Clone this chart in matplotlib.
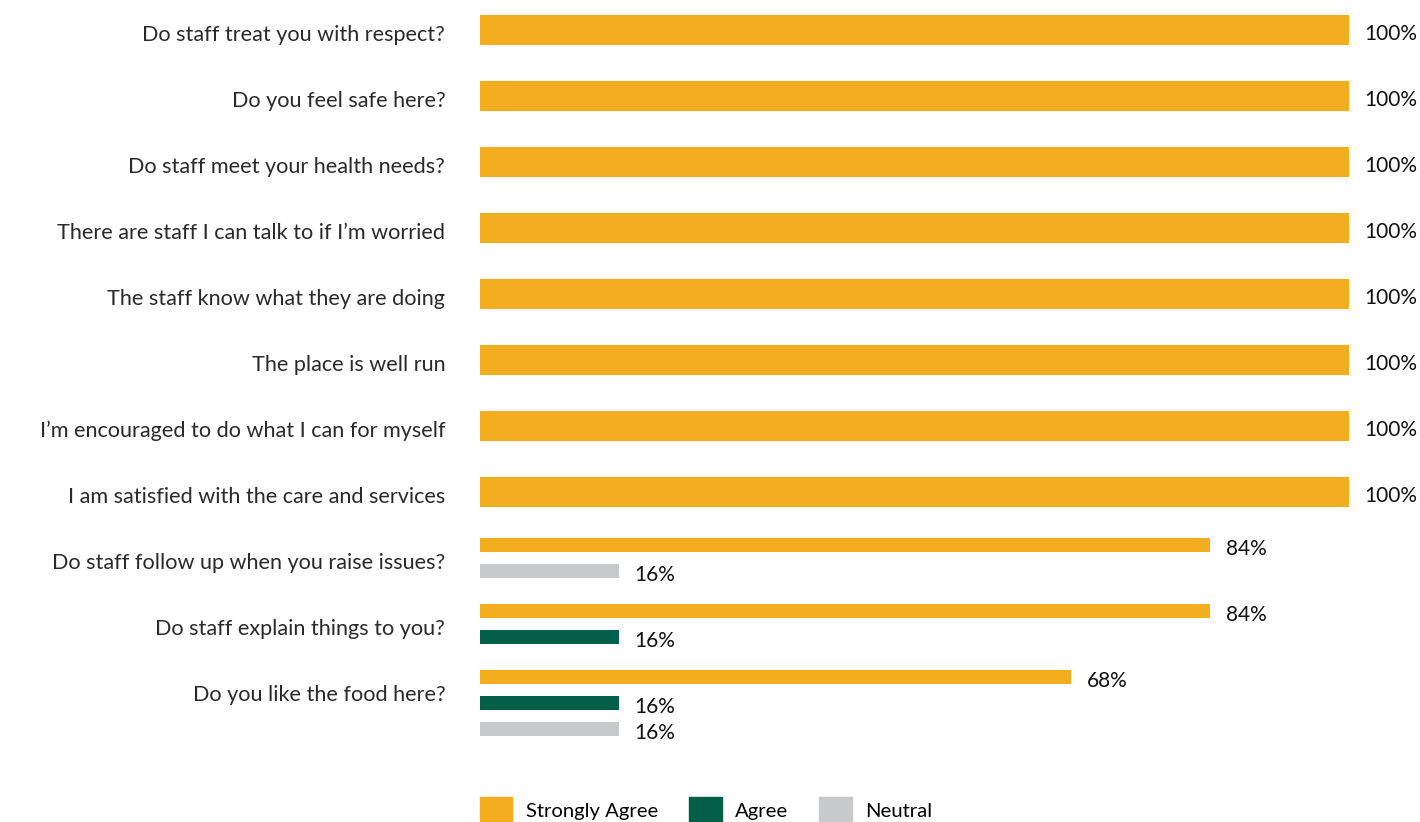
import numpy as np
import matplotlib.pyplot as plt
from matplotlib.patches import Patch
from matplotlib.transforms import ScaledTranslation

questions = [
    "Do staff treat you with respect?",
    "Do you feel safe here?",
    "Do staff meet your health needs?",
    "There are staff I can talk to if I\u2019m worried",
    "The staff know what they are doing",
    "The place is well run",
    "I\u2019m encouraged to do what I can for myself",
    "I am satisfied with the care and services",
    "Do staff follow up when you raise issues?",
    "Do staff explain things to you?",
    "Do you like the food here?",
]
series = ["Strongly Agree", "Agree", "Neutral"]
strongly_agree = [100, 100, 100, 100, 100, 100, 100, 100, 84, 84, 68]
agree = [0, 0, 0, 0, 0, 0, 0, 0, 0, 16, 16]
neutral = [0, 0, 0, 0, 0, 0, 0, 0, 16, 0, 16]
colors = ["#F2AE1F", "#035E4A", "#C8C9CB"]

W, H = 1420, 822
fig = plt.figure(figsize=(W / 100, H / 100), dpi=100)
# axes spans full height; one y unit = one row (66 px)
row_px = 66.0
top_px = 30.0
ax = fig.add_axes([480 / W, 0, (1349 - 480) / W, 1])
ax.set_xlim(0, 100)
ax.set_ylim((H - top_px) / row_px, -top_px / row_px)

single_h = 30 / row_px
multi_h = 14 / row_px
multi_step = 26 / row_px
multi_off = -13 / row_px
txt_shift = 4 / row_px

vals = np.array([strongly_agree, agree, neutral])
for i in range(len(questions)):
    present = [k for k in range(3) if vals[k, i] > 0]
    for j, k in enumerate(present):
        if len(present) == 1:
            y, h = i, single_h
        else:
            y, h = i + multi_off + j * multi_step, multi_h
        ax.barh(y, vals[k, i], height=h, color=colors[k])
        ax.text(vals[k, i] + 1.8, y + txt_shift, f"{vals[k, i]}%", va="center", ha="left",
                fontsize=15, family="Lato", color="#111111")

ax.set_yticks(range(len(questions)))
ax.set_yticklabels(questions, fontsize=15.6, family="Lato", color="#2a2a2a")
ax.tick_params(axis="y", length=0, pad=25)
shift = ScaledTranslation(0, -3 / 100, fig.dpi_scale_trans)
for lab in ax.get_yticklabels():
    lab.set_transform(lab.get_transform() + shift)
ax.set_xticks([])
for s in ax.spines.values():
    s.set_visible(False)

handles = [Patch(color=c, label=s) for c, s in zip(colors, series)]
leg = ax.legend(handles=handles, loc="center left", ncol=3, frameon=False,
                bbox_to_anchor=(480 / W, (H - 810) / H), bbox_transform=fig.transFigure,
                borderaxespad=0, borderpad=0,
                handlelength=1.6, handleheight=1.6, handletextpad=0.65,
                columnspacing=1.55, prop={"family": "Lato", "size": 14.6})

fig.savefig("out.png", dpi=100)
